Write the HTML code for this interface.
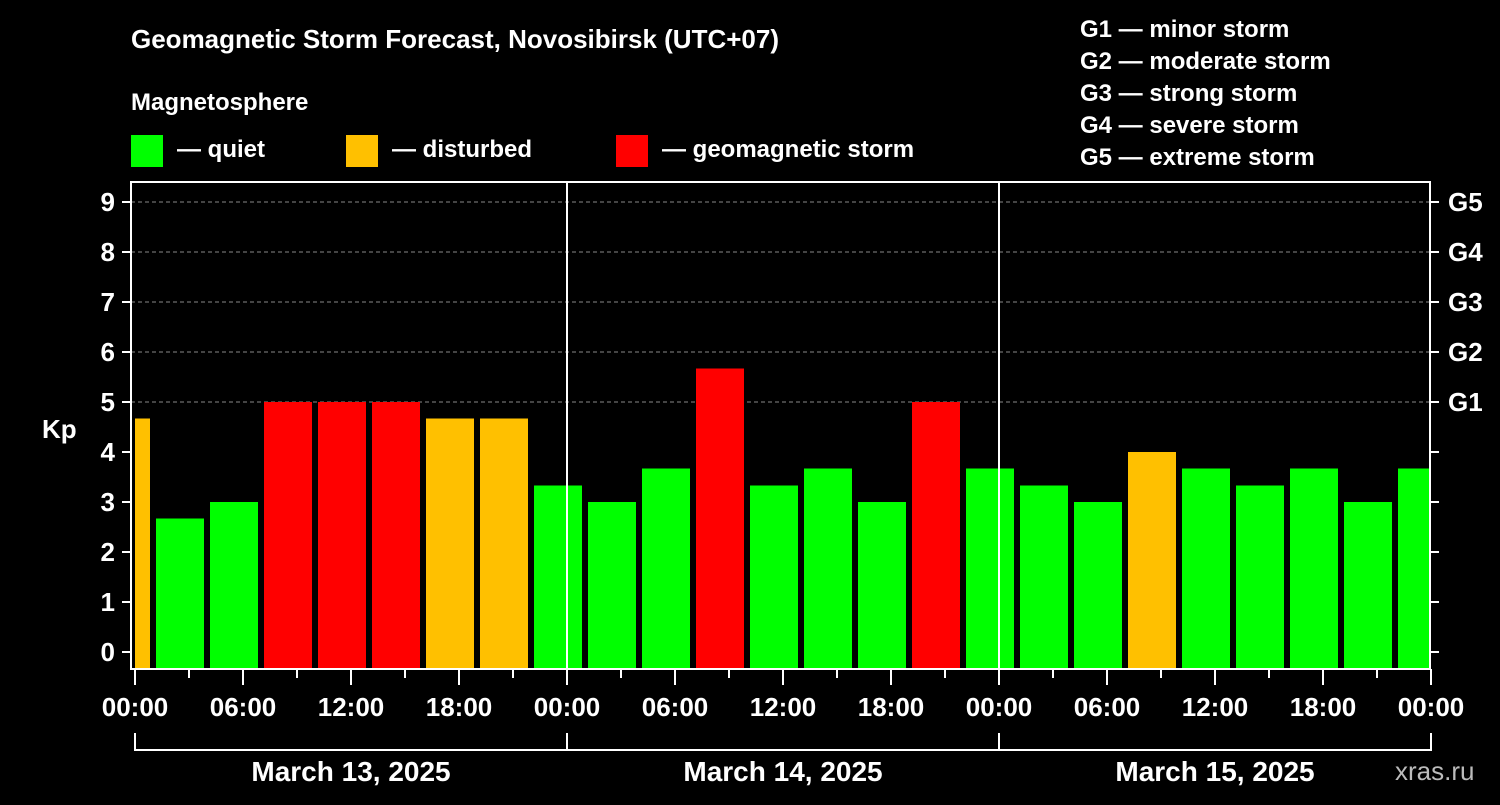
<!DOCTYPE html>
<html><head><meta charset="utf-8"><style>
body{margin:0;background:#000;}
svg text{font-family:"Liberation Sans",Arial,sans-serif;font-weight:bold;fill:#fff;}
</style></head><body>
<svg width="1500" height="800" viewBox="0 0 1500 800">
<rect width="1500" height="800" fill="#000"/>
<text x="131" y="48" font-size="26">Geomagnetic Storm Forecast, Novosibirsk (UTC+07)</text>
<text x="131" y="110" font-size="24">Magnetosphere</text>
<g><rect x="131" y="135" width="32" height="32" fill="#00ff00"/><text x="177" y="157" font-size="24">— quiet</text></g>
<g><rect x="346" y="135" width="32" height="32" fill="#ffc000"/><text x="392" y="157" font-size="24">— disturbed</text></g>
<g><rect x="616" y="135" width="32" height="32" fill="#ff0000"/><text x="662" y="157" font-size="24">— geomagnetic storm</text></g>
<g font-size="24">
<text x="1080" y="37">G1 — minor storm</text>
<text x="1080" y="69">G2 — moderate storm</text>
<text x="1080" y="101">G3 — strong storm</text>
<text x="1080" y="133">G4 — severe storm</text>
<text x="1080" y="165">G5 — extreme storm</text>
</g>
<g id="plot"></g>
<text x="42" y="438" font-size="26">Kp</text>
<text x="1395" y="780" font-size="26" fill="#bbb" style="fill:#bbb;font-weight:normal">xras.ru</text>
</svg>
<script>
const kpValues=[4.67,2.67,3,5,5,5,4.67,4.67,3.33,3,3.67,5.67,3.33,3.67,3,5,3.67,3.33,3,4,3.67,3.33,3.67,3,3.67];
const yTicks=[0,1,2,3,4,5,6,7,8,9];
const gLabels=["G1","G2","G3","G4","G5"];
const hourLabels=["00:00","06:00","12:00","18:00"];
const dayLabels=["March 13, 2025","March 14, 2025","March 15, 2025"];
const firstBinStartHour=-2; // bins start at 22:00 previous day (UTC offset)
const NS="http://www.w3.org/2000/svg";
const g=document.getElementById('plot');
const L=131,R=1430,T=182,B=669,X0=135,PXH=18;
const xs=h=>X0+h*PXH;
const ys=v=>652-v*50;
function el(t,a,p){const e=document.createElementNS(NS,t);for(const k in a)e.setAttribute(k,a[k]);(p||g).appendChild(e);return e;}
// grid
yTicks.forEach(v=>{if(v>=5){const l=el('line',{x1:L,x2:R,y1:ys(v),y2:ys(v),stroke:'#888','stroke-dasharray':'4,3','stroke-width':1});

}});
// bars
kpValues.forEach((v,i)=>{
 let a=xs(firstBinStartHour+i*3)+3,b=xs(firstBinStartHour+i*3+3)-3;
 a=Math.max(a,L+4);b=Math.min(b,R);
 const c=v>=5?'#ff0000':v>=4?'#ffc000':'#00ff00';
 const r=el('rect',{x:a,y:ys(v),width:b-a,height:B-ys(v),fill:c});
 
 
});
// day separators
[1,2].forEach(d=>{const l=el('line',{x1:xs(d*24),x2:xs(d*24),y1:T,y2:B,stroke:'#fff','stroke-width':2});

});
// frame
const f=el('rect',{x:L,y:T,width:R-L,height:B-T,fill:'none',stroke:'#fff','stroke-width':2});


// y ticks
yTicks.forEach(v=>{
 el('line',{x1:L-9,x2:L,y1:ys(v),y2:ys(v),stroke:'#fff','stroke-width':2});
 el('line',{x1:R,x2:R+9,y1:ys(v),y2:ys(v),stroke:'#fff','stroke-width':2});
 const t=el('text',{x:L-16,y:ys(v)+9,'font-size':26,'text-anchor':'end'});t.textContent=v;
 
 
});
gLabels.forEach((s,i)=>{const t=el('text',{x:R+18,y:ys(5+i)+9,'font-size':26});t.textContent=s;
 
 });
// x ticks
for(let h=0;h<=72;h+=3){const maj=h%6===0;el('line',{x1:xs(h),x2:xs(h),y1:B,y2:B+(maj?16:9),stroke:'#fff','stroke-width':2});
 if(maj){const t=el('text',{x:xs(h),y:716,'font-size':26,'text-anchor':'middle'});t.textContent=hourLabels[(h/6)%4];
 
 }}
// day brackets
el('path',{d:`M${xs(0)} 733 V750 H${xs(72)} V733 M${xs(24)} 733 V750 M${xs(48)} 733 V750`,stroke:'#fff','stroke-width':2,fill:'none'});
dayLabels.forEach((s,i)=>{const t=el('text',{x:xs(i*24+12),y:781,'font-size':28,'text-anchor':'middle'});t.textContent=s;
 
 });
</script>
</body></html>
